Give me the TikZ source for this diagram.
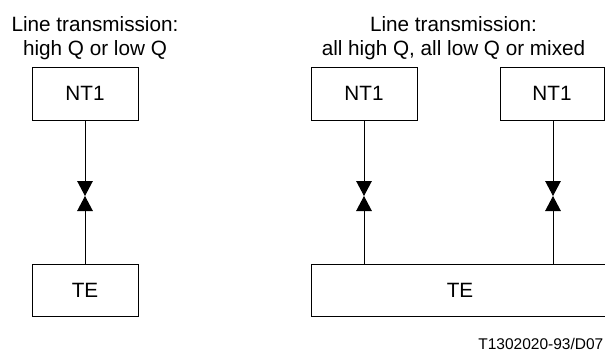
\documentclass[tikz,border=0pt]{standalone}
\usepackage{fontspec}
\setmainfont{Liberation Sans}
\usetikzlibrary{arrows.meta}
\begin{document}
\begin{tikzpicture}[x=1pt,y=-1pt,
  box/.style={draw, line width=0.9pt, inner sep=0pt, minimum height=52.5pt,
    font=\fontsize{20.7}{23.5}\selectfont},
  title/.style={align=center, anchor=base, inner sep=0pt,
    font=\fontsize{20.7}{23.5}\selectfont},
  conn/.style={line width=0.9pt, -{Triangle[length=15pt,width=15.6pt]}}]
\useasboundingbox (0,0) rectangle (605,354);
% titles
\node[title] (ta) at (95,55) {Line transmission:\\high Q or low Q};
\node[title] (tb) at (453.5,55) {Line transmission:\\all high Q, all low Q or mixed};
% boxes
\node[box, minimum width=106pt] (nta) at (85,93.75) {NT1};
\node[box, minimum width=106pt] (tea) at (85,290.5) {TE};
\node[box, minimum width=106pt] (ntb) at (364,93.75) {NT1};
\node[box, minimum width=104pt] (ntc) at (552,93.75) {NT1};
\node[box, minimum width=298pt] (teb) at (460,290.5) {TE};
% junctions
\coordinate (ja) at (85,196);
\coordinate (jb) at (364,196);
\coordinate (jc) at (553,196);
% connectors
\draw[conn] (nta.south) -- (ja);
\draw[conn] (tea.north) -- (ja);
\draw[conn] (ntb.south) -- (jb);
\draw[conn] (teb.north -| jb) -- (jb);
\draw[conn] (ntc.south -| jc) -- (jc);
\draw[conn] (teb.north -| jc) -- (jc);
% reference
\node[anchor=base east, inner sep=0pt, font=\fontsize{15.5}{18}\selectfont] (ref) at (603.5,349.5) {T1302020-93/D07};
\end{tikzpicture}
\end{document}
